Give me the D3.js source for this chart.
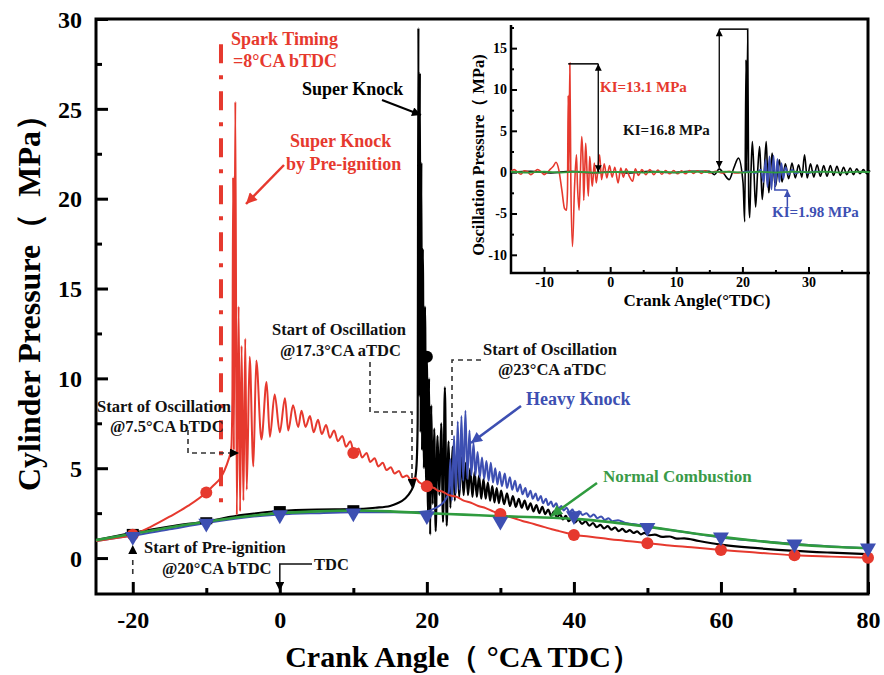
<!DOCTYPE html>
<html><head><meta charset="utf-8">
<script src="https://cdn.jsdelivr.net/npm/d3@7"></script>
<style>
body{margin:0;background:#fff}
text{font-family:"Liberation Serif","Times New Roman",serif;font-weight:bold}
</style>
</head><body><svg id="c" width="884" height="675"></svg>
<script>
// ---------------- DATA ----------------
const mainXTicks = [-20, 0, 20, 40, 60, 80];
const mainXMinor = [-10, 10, 30, 50, 70];
const mainYTicks = [0, 5, 10, 15, 20, 25, 30];
const mainYMinor = [2.5, 7.5, 12.5, 17.5, 22.5, 27.5];
const insetXTicks = [-10, 0, 10, 20, 30];
const insetXMinor = [-5, 5, 15, 25, 35];
const insetYTicks = [-10, -5, 0, 5, 10, 15];
const insetYMinor = [-7.5, -2.5, 2.5, 7.5, 12.5, 17.5];

// Normal combustion (green)
const normalCurve = [[-25,1.0],[-20,1.35],[-15,1.7],[-10,2.02],[-5,2.3],[0,2.5],[5,2.6],[10,2.65],[15,2.6],[20,2.5],[25,2.42],[30,2.33],[35,2.27],[40,2.18],[45,2.0],[50,1.75],[55,1.45],[60,1.18],[65,0.95],[70,0.76],[75,0.63],[80,0.55]];

// Heavy knock (blue)
const heavyCurve = [[-25,0.95],[-20,1.25],[-15,1.6],[-10,1.95],[-5,2.25],[0,2.42],[5,2.5],[10,2.55],[15,2.55],[18,2.55],[20,2.6],[21,2.75],[22,3.0],[22.6,3.3],[23,3.7],
[23.2,5.5],[23.4,3.2],[23.7,6.8],[23.95,3.6],[24.2,7.6],[24.45,3.8],[24.7,7.9],[24.95,4.3],[25.25,8.2],[25.5,4.4],[25.8,7.1],[26.05,4.6],[26.35,6.4],[26.6,4.6],[26.9,5.9],[27.2,4.5],[27.5,5.6],[27.8,4.4],[28.1,5.4],[28.4,4.3],[28.7,5.3],[29.0,4.2],[29.3,5.0],[29.6,4.1],[29.9,4.8],[30.2,4.0],[30.6,4.7],[30.9,3.9],[31.3,4.5],[31.6,3.8],[32.0,4.3],[32.3,3.7],[32.7,4.1],[33.0,3.55],[33.4,3.9],[33.7,3.4],[34.1,3.75],[34.4,3.3],[34.8,3.6],[35.1,3.2],[35.5,3.45],[35.8,3.05],[36.2,3.3],[36.5,2.95],[36.9,3.15],[37.2,2.85],[37.6,3.05],[37.9,2.75],[38.3,2.9],[38.6,2.65],[39.0,2.8],[39.4,2.55],[39.8,2.7],[40.2,2.45],[40.7,2.6],[41.2,2.4],[41.7,2.5],[42.2,2.3],[42.7,2.42],[43.2,2.22],[43.7,2.32],[44.2,2.12],[44.7,2.22],[45.2,2.05],[46,2.1],[47,1.95],[48,1.9],[50,1.75],[55,1.45],[60,1.15],[65,0.95],[70,0.78],[75,0.65],[80,0.55]];

// Super knock (black)
const superCurve = [[-25,1.0],[-20,1.4],[-15,1.75],[-10,2.05],[-5,2.4],[0,2.62],[5,2.7],[10,2.72],[13,2.8],[15,2.9],[16,3.05],[17,3.3],[17.8,3.7],[18.3,4.2],[18.6,5.2],[18.75,7.5],[18.85,29.5],[18.95,9],[19.05,27],[19.15,7],[19.25,22],[19.35,6],[19.45,17.2],[19.6,5],[19.75,14],[19.9,4],[20.0,11.2],[20.15,2.5],[20.3,10],[20.45,1.3],[20.6,8.5],[20.8,3],[21.0,7.2],[21.2,1.5],[21.45,6.8],[21.7,3.5],[21.95,7.5],[22.2,2.0],[22.45,9.5],[22.7,1.8],[22.95,6.5],[23.2,2.8],[23.5,6.2],[23.8,3.2],[24.1,6.0],[24.4,3.4],[24.7,5.6],[25.0,3.5],[25.3,5.3],[25.6,3.5],[25.9,5.0],[26.2,3.4],[26.5,4.8],[26.8,3.4],[27.1,4.6],[27.4,3.3],[27.7,4.4],[28.0,3.3],[28.3,4.2],[28.6,3.2],[28.9,4.0],[29.2,3.1],[29.5,3.9],[29.8,3.05],[30.1,3.75],[30.5,3.0],[30.9,3.6],[31.3,2.9],[31.7,3.45],[32.1,2.85],[32.5,3.3],[32.9,2.8],[33.3,3.2],[33.7,2.7],[34.1,3.05],[34.5,2.6],[34.9,2.95],[35.3,2.5],[35.7,2.85],[36.1,2.45],[36.5,2.7],[36.9,2.35],[37.3,2.6],[37.7,2.25],[38.1,2.45],[38.5,2.15],[38.9,2.35],[39.3,2.05],[39.7,2.25],[40.1,1.98],[40.6,2.15],[41.1,1.9],[41.6,2.05],[42.1,1.8],[42.6,1.95],[43.1,1.72],[43.6,1.85],[44.1,1.65],[44.6,1.78],[45.1,1.58],[45.6,1.7],[46.1,1.5],[46.6,1.62],[47.1,1.45],[47.6,1.55],[48.1,1.4],[48.6,1.48],[49.1,1.32],[49.6,1.4],[50.1,1.27],[51,1.3],[52,1.18],[53,1.2],[54,1.08],[55,1.1],[57,0.95],[60,0.75],[65,0.55],[70,0.4],[75,0.3],[80,0.22]];

// Super knock by pre-ignition (red)
const preIgnCurve = [[-25,0.95],[-22.5,1.1],[-20,1.3],[-17.5,1.75],[-15,2.3],[-12.5,2.9],[-10,3.65],[-9,4.05],[-8,4.5],[-7.5,4.9],[-7,5.45],[-6.6,6.1],
[-6.45,9],[-6.35,21.2],[-6.25,6],[-6.05,25.4],[-5.85,2.4],[-5.6,14],[-5.4,2.6],[-5.2,11.8],[-4.95,3.2],[-4.7,12.2],[-4.5,3.8],[-4.1,11.2],[-3.6,5.1],[-3.2,11.0],[-2.5,6.6],[-1.8,9.8],[-1.35,6.75],[-0.7,9.1],[0,7.0],[0.7,8.9],[1.15,7.1],[1.8,8.5],[2.5,7.3],[2.95,8.2],[3.5,7.3],[4.1,7.9],[4.6,7.0],[5.2,7.7],[5.7,6.9],[6.3,7.4],[6.8,6.7],[7.4,7.1],[7.9,6.5],[8.5,6.8],[9.0,6.2],[9.6,6.5],[10.1,5.85],[10.7,6.1],[11.2,5.6],[11.8,5.85],[12.3,5.35],[12.9,5.55],[13.4,5.1],[14.0,5.3],[14.5,4.9],[15.1,5.05],[15.6,4.7],[16.2,4.85],[16.7,4.5],[17.3,4.6],[17.8,4.35],[18.4,4.45],[19,4.2],[20,4.0],[21,3.9],[21.5,3.75],[22,3.72],[23,3.5],[24,3.42],[25,3.2],[26,3.08],[27,2.9],[28,2.78],[29,2.6],[30,2.45],[31,2.32],[32,2.2],[33,2.06],[34,1.96],[35,1.84],[36,1.72],[37,1.6],[38,1.5],[39,1.4],[40,1.3],[42,1.2],[44,1.1],[46,1.0],[48,0.92],[50,0.83],[53,0.7],[56,0.6],[60,0.45],[65,0.3],[70,0.15],[75,0.08],[80,0.02]];

const redMarkers = [[-20,1.3],[-10,3.65],[10,5.85],[20,4.0],[30,2.45],[40,1.28],[50,0.83],[60,0.45],[70,0.15],[80,0.02]];
const blueMarkers = [[-20,1.2],[-10,1.93],[0,2.4],[10,2.5],[20,2.35],[30,2.05],[40,2.35],[50,1.7],[60,1.17],[70,0.78],[80,0.55]];
const blackMarkers = [[-20,1.4],[-10,2.05],[0,2.67],[10,2.72]];
const blackPeakMarker = [[20,11.2]];

// Inset: oscillation pressure
const insetRed = [[-15,0.1],[-14.5,0.3],[-14,0],[-13.5,-0.25],[-13,0.15],[-12.5,0.05],[-12,-0.3],[-11.5,0.0],[-11,0.3],[-10.5,0.1],[-10,-0.3],[-9.5,0],[-9,0.4],[-8.6,0.7],[-8.2,1.2],[-7.8,0.4],[-7.3,-2.2],[-6.9,-4.4],[-6.6,-4.6],[-6.45,-2],[-6.35,9.3],[-6.25,0],[-6.1,13.2],[-5.95,-1],[-5.7,-9.0],[-5.4,-2],[-5.1,2.1],[-4.95,-1.5],[-4.7,-4.6],[-4.5,0],[-4.3,4.3],[-4.1,1],[-4.0,-3.4],[-3.85,0],[-3.7,3.5],[-3.5,0],[-3.3,-2.9],[-3.1,1.9],[-2.9,0],[-2.7,-1.7],[-2.4,1.1],[-2.1,-1.3],[-1.6,2.1],[-1.3,-0.9],[-0.9,1.0],[-0.5,-0.7],[-0.1,0.8],[0.3,-0.6],[0.7,0.6],[1.2,-1.3],[1.6,0.5],[2.0,-0.6],[2.4,0.4],[2.9,-0.5],[3.4,-1.1],[3.8,0.4],[4.3,-0.4],[4.8,0.3],[5.4,-0.3],[6,0.3],[6.6,-0.3],[7.2,0.25],[7.8,-0.25],[8.4,0.2],[9,-0.2],[9.6,0.2],[10.2,-0.2],[10.8,0.15],[11.4,-0.2],[12,0.2],[12.6,-0.15],[13.2,0.15],[13.8,-0.15],[14.4,0.15],[15,-0.1],[16,0.1],[17,-0.1],[18,0.1],[19,-0.1],[20,0]];
const insetBlack = [[-15,0],[-12,0.1],[-9,-0.1],[-6,0.1],[-3,-0.1],[0,0.05],[3,-0.1],[6,0.1],[9,-0.05],[12,0.1],[15,0.1],[15.8,-0.3],[16.5,0.4],[17.2,-0.2],[18,-0.9],[18.7,0.5],[19.4,1.7],[20.1,-1.3],[20.35,-6.0],[20.55,13.6],[20.65,0],[20.8,17.3],[20.95,-3],[21.1,-5.5],[21.3,0],[21.5,3.7],[21.75,0],[22.0,-4.2],[22.3,0],[22.6,3.1],[22.8,0],[23.0,-3.3],[23.3,0],[23.6,3.7],[23.8,0],[24.0,-2.5],[24.25,0],[24.5,2.3],[24.75,0],[25.0,-1.7],[25.3,0],[25.6,1.5],[25.8,0],[26.0,-1.2],[26.5,1.0],[27,-0.8],[27.5,1.1],[28,-0.7],[28.5,0.9],[29,-0.6],[29.4,2.1],[29.8,-0.7],[30.3,1.0],[30.8,-0.6],[31.3,0.9],[31.8,-0.5],[32.3,0.8],[32.8,-0.5],[33.3,0.8],[33.8,-0.4],[34.3,0.7],[34.8,-0.4],[35.3,0.6],[35.8,-0.3],[36.3,0.5],[36.8,-0.3],[37.3,0.4],[37.8,-0.2],[38.3,0.3],[38.8,-0.2],[39.3,0.2]];
const insetBlue = [[20,0],[21,0.1],[22,-0.1],[22.8,0.3],[23.2,-1.2],[23.5,1.5],[23.8,-1.8],[24.1,1.9],[24.4,-2.1],[24.7,2.0],[25.0,-1.6],[25.3,1.6],[25.6,-1.2],[25.9,1.1],[26.2,-0.8],[26.5,0.6],[27,-0.3],[27.5,0.3],[28,-0.15],[29,0.1],[30,-0.1],[31,0.1],[32,0]];
const insetGreen = [[-15,0.05],[-12.5,-0.05],[-10,0.05],[-7.5,-0.05],[-5,0.05],[-2.5,-0.05],[0,0],[2.5,0.05],[5,-0.05],[7.5,0.05],[10,-0.05],[12.5,0.05],[15,0],[17.5,0.05],[20,-0.05],[22.5,0.05],[25,-0.05],[27.5,0.05],[30,0],[32.5,0.05],[35,-0.05],[37.5,0.05],[39.3,0]];

// KI values
const kiRed = {x0:-6.35, x1:-1.8, top:13.1, bottom:0};
const kiBlack = {x0:16.5, x1:20.8, top:17.3, bottom:0.5};
const kiBlue = {x0:24.9, x1:26.8, level:-2.15, up:-1.3, low:-4.2};

// ---------------- DRAW ----------------
const RED = "#e6392e", BLUE = "#3d4fb2", GREEN = "#2f9b3e", BLACK = "#000";
const svg = d3.select("#c");
const fmt = d => String(d);

const x = d3.scaleLinear([-25, 80], [96, 868]);
const y = d3.scaleLinear([-2, 30], [594, 19]);
const ix = d3.scaleLinear([-15, 39.3], [511, 870]);
const iy = d3.scaleLinear([-12.2, 17.8], [273, 25]);

// arrow markers
const defs = svg.append("defs");
function mk(id, color, w, h) {
  defs.append("marker").attr("id", id).attr("viewBox", "0 0 10 10").attr("refX", 10).attr("refY", 5)
    .attr("markerWidth", w).attr("markerHeight", h).attr("markerUnits", "userSpaceOnUse").attr("orient", "auto-start-reverse")
    .append("path").attr("d", "M0,0 L10,5 L0,10 z").attr("fill", color);
}
mk("aBlack", BLACK, 12, 9); mk("aRed", RED, 14, 11); mk("aBlue", BLUE, 14, 11); mk("aGreen", GREEN, 14, 11);
mk("aSmall", BLACK, 8, 7); mk("aSmallBlue", BLUE, 8, 7); mk("aTri", BLACK, 11, 9);

// main axes
const gx = svg.append("g").attr("transform", "translate(0,594)")
  .call(d3.axisBottom(x).tickValues(mainXTicks).tickSize(-12).tickPadding(17).tickFormat(fmt));
const gxm = svg.append("g").attr("transform", "translate(0,594)")
  .call(d3.axisBottom(x).tickValues(mainXMinor).tickSize(-6).tickFormat(""));
const gy = svg.append("g").attr("transform", "translate(96,0)")
  .call(d3.axisLeft(y).tickValues(mainYTicks).tickSize(-12).tickPadding(14).tickFormat(fmt));
const gym = svg.append("g").attr("transform", "translate(96,0)")
  .call(d3.axisLeft(y).tickValues(mainYMinor).tickSize(-6).tickFormat(""));
[gx, gxm, gy, gym].forEach(g => {
  g.select(".domain").remove();
  g.selectAll(".tick line").attr("stroke", "#000").attr("stroke-width", 3);
  g.selectAll("text").attr("font-size", 24).attr("fill", "#000")
    .attr("font-family", '"Liberation Serif",serif').attr("font-weight", "bold");
});
gy.selectAll("text").attr("dy", "0.34em");

// frame
svg.append("rect").attr("x", 96).attr("y", 19).attr("width", 772).attr("height", 575)
  .attr("fill", "none").attr("stroke", "#000").attr("stroke-width", 3);

// axis titles
svg.append("text").attr("transform", "translate(40,295) rotate(-90)").attr("text-anchor", "middle")
  .attr("font-size", 32).attr("xml:space", "preserve").text("Cylinder Pressure（  MPa）");
svg.append("text").attr("x", 463).attr("y", 667).attr("text-anchor", "middle")
  .attr("font-size", 30).text("Crank Angle（ °CA TDC）");

// spark timing line
svg.append("line").attr("x1", x(-8)).attr("x2", x(-8)).attr("y1", y(28.6)).attr("y2", y(2.5))
  .attr("stroke", RED).attr("stroke-width", 4).attr("stroke-dasharray", "19,12,4,12");

// curves
const line = d3.line().x(d => x(d[0])).y(d => y(d[1])).curve(d3.curveMonotoneX);
svg.append("path").datum(superCurve).attr("d", line).attr("fill", "none").attr("stroke", BLACK).attr("stroke-width", 2.2);
svg.append("path").datum(heavyCurve).attr("d", line).attr("fill", "none").attr("stroke", BLUE).attr("stroke-width", 2);
svg.append("path").datum(preIgnCurve).attr("d", line).attr("fill", "none").attr("stroke", RED).attr("stroke-width", 2);
svg.append("path").datum(normalCurve).attr("d", line).attr("fill", "none").attr("stroke", GREEN).attr("stroke-width", 2.6);

// markers
svg.selectAll(".bm").data(blackMarkers).join("rect").attr("x", d => x(d[0]) - 6).attr("y", d => y(d[1]) - 4)
  .attr("width", 12).attr("height", 7).attr("fill", BLACK);
svg.selectAll(".rm").data(redMarkers).join("circle").attr("cx", d => x(d[0])).attr("cy", d => y(d[1])).attr("r", 6).attr("fill", RED);
const tri = d3.symbol(d3.symbolTriangle, 110);
svg.selectAll(".tm").data(blueMarkers).join("path").attr("d", tri)
  .attr("transform", d => `translate(${x(d[0])},${y(d[1])}) rotate(180)`).attr("fill", BLUE);
svg.selectAll(".km").data(blackPeakMarker).join("circle").attr("cx", d => x(d[0])).attr("cy", d => y(d[1])).attr("r", 6).attr("fill", BLACK);

// annotations
function txt(t, px, py, size, color, anchor) {
  svg.append("text").attr("x", px).attr("y", py).attr("font-size", size).attr("fill", color)
    .attr("text-anchor", anchor || "start").text(t);
}
txt("Spark Timing", 231, 45, 18, RED);
txt("=8°CA bTDC", 233, 67, 18, RED);
txt("Super Knock", 302, 95, 18, BLACK);
svg.append("line").attr("x1", 382).attr("y1", 100).attr("x2", 421).attr("y2", 115).attr("stroke", BLACK).attr("stroke-width", 2).attr("marker-end", "url(#aBlack)");
txt("Super Knock", 290, 147, 18, RED);
txt("by Pre-ignition", 286, 170, 18, RED);
svg.append("line").attr("x1", 284).attr("y1", 165).attr("x2", 246).attr("y2", 204).attr("stroke", RED).attr("stroke-width", 2.5).attr("marker-end", "url(#aRed)");

txt("Start of Oscillation", 272, 335, 16.5, "#111");
txt("@17.3°CA aTDC", 280, 356, 16.5, "#111");
svg.append("path").attr("d", "M370,362 V412 H412 V480").attr("fill", "none").attr("stroke", "#333").attr("stroke-width", 1.6).attr("stroke-dasharray", "5,4");
svg.append("line").attr("x1", 412).attr("y1", 476).attr("x2", 412).attr("y2", 488).attr("stroke", "none").attr("marker-end", "url(#aTri)");

txt("Start of Oscillation", 97, 412, 16.5, "#111");
txt("@7.5°CA bTDC", 110, 432, 16.5, "#111");
svg.append("path").attr("d", "M188,430 V453 H232").attr("fill", "none").attr("stroke", "#333").attr("stroke-width", 1.6).attr("stroke-dasharray", "5,4");
svg.append("line").attr("x1", 228).attr("y1", 453).attr("x2", 239).attr("y2", 453).attr("stroke", "none").attr("marker-end", "url(#aTri)");

txt("Start of Oscillation", 483, 355, 16.5, "#111");
txt("@23°CA aTDC", 498, 375, 16.5, "#111");
svg.append("path").attr("d", "M481,360 H452 V440").attr("fill", "none").attr("stroke", "#333").attr("stroke-width", 1.6).attr("stroke-dasharray", "5,4");

txt("Heavy Knock", 526, 405, 18, BLUE);
svg.append("line").attr("x1", 521).attr("y1", 406).attr("x2", 471).attr("y2", 443).attr("stroke", BLUE).attr("stroke-width", 2.5).attr("marker-end", "url(#aBlue)");
txt("Normal Combustion", 603, 482, 17, "#3a9a48");
svg.append("line").attr("x1", 597).attr("y1", 483).attr("x2", 551).attr("y2", 516).attr("stroke", GREEN).attr("stroke-width", 2.5).attr("marker-end", "url(#aGreen)");

txt("Start of Pre-ignition", 144, 553, 16.5, "#111");
txt("@20°CA bTDC", 162, 574, 16.5, "#111");
svg.append("line").attr("x1", x(-20)).attr("y1", 574).attr("x2", x(-20)).attr("y2", 558).attr("stroke", "#333").attr("stroke-width", 1.6).attr("stroke-dasharray", "5,4");
svg.append("line").attr("x1", x(-20)).attr("y1", 558).attr("x2", x(-20)).attr("y2", 545).attr("stroke", "none").attr("marker-end", "url(#aTri)");
txt("TDC", 314, 570, 16.5, "#111");
svg.append("path").attr("d", `M312,564 H${x(0)} V582`).attr("fill", "none").attr("stroke", "#111").attr("stroke-width", 1.5);
svg.append("line").attr("x1", x(0)).attr("y1", 578).attr("x2", x(0)).attr("y2", 591).attr("stroke", "none").attr("marker-end", "url(#aTri)");

// ---------------- INSET ----------------
const ins = svg.append("g");
const igx = ins.append("g").attr("transform", "translate(0,273)")
  .call(d3.axisBottom(ix).tickValues(insetXTicks).tickSize(-6).tickPadding(4).tickFormat(fmt));
const igxm = ins.append("g").attr("transform", "translate(0,273)")
  .call(d3.axisBottom(ix).tickValues(insetXMinor).tickSize(-3).tickFormat(""));
const igy = ins.append("g").attr("transform", "translate(511,0)")
  .call(d3.axisLeft(iy).tickValues(insetYTicks).tickSize(-6).tickPadding(4).tickFormat(fmt));
const igym = ins.append("g").attr("transform", "translate(511,0)")
  .call(d3.axisLeft(iy).tickValues(insetYMinor).tickSize(-3).tickFormat(""));
[igx, igxm, igy, igym].forEach(g => {
  g.select(".domain").remove();
  g.selectAll(".tick line").attr("stroke", "#000").attr("stroke-width", 2);
  g.selectAll("text").attr("font-size", 14).attr("fill", "#000")
    .attr("font-family", '"Liberation Serif",serif').attr("font-weight", "bold");
});
ins.append("path").attr("d", "M511,25 V273 H870").attr("fill", "none").attr("stroke", "#000").attr("stroke-width", 2.5);

ins.append("text").attr("transform", "translate(484,155) rotate(-90)").attr("text-anchor", "middle")
  .attr("font-size", 16.5).text("Oscillation Pressure（ MPa)");
ins.append("text").attr("x", 697).attr("y", 306).attr("text-anchor", "middle")
  .attr("font-size", 17).text("Crank Angle(°TDC)");

const iline = d3.line().x(d => ix(d[0])).y(d => iy(d[1])).curve(d3.curveMonotoneX);
ins.append("path").datum(insetBlack).attr("d", iline).attr("fill", "none").attr("stroke", BLACK).attr("stroke-width", 1.6);
ins.append("path").datum(insetRed).attr("d", iline).attr("fill", "none").attr("stroke", RED).attr("stroke-width", 1.6);
ins.append("path").datum(insetBlue).attr("d", iline).attr("fill", "none").attr("stroke", BLUE).attr("stroke-width", 1.8);
ins.append("path").datum(insetGreen).attr("d", iline).attr("fill", "none").attr("stroke", GREEN).attr("stroke-width", 1.8);

// KI annotations
ins.append("line").attr("x1", ix(kiRed.x0)).attr("x2", ix(kiRed.x1)).attr("y1", iy(kiRed.top)).attr("y2", iy(kiRed.top)).attr("stroke", "#000").attr("stroke-width", 1.5);
ins.append("line").attr("x1", ix(kiRed.x1)).attr("x2", ix(kiRed.x1)).attr("y1", iy(kiRed.bottom)).attr("y2", iy(kiRed.top)).attr("stroke", "#000").attr("stroke-width", 1.3)
  .attr("marker-start", "url(#aSmall)").attr("marker-end", "url(#aSmall)");
ins.append("line").attr("x1", ix(kiBlack.x0)).attr("x2", ix(kiBlack.x1)).attr("y1", iy(kiBlack.top)).attr("y2", iy(kiBlack.top)).attr("stroke", "#000").attr("stroke-width", 1.5);
ins.append("line").attr("x1", ix(kiBlack.x0)).attr("x2", ix(kiBlack.x0)).attr("y1", iy(kiBlack.bottom)).attr("y2", iy(kiBlack.top)).attr("stroke", "#000").attr("stroke-width", 1.3)
  .attr("marker-start", "url(#aSmall)").attr("marker-end", "url(#aSmall)");
ins.append("path").attr("d", `M${ix(kiBlue.x0)},${iy(kiBlue.up)} V${iy(kiBlue.level)} H${ix(kiBlue.x1)}`).attr("fill", "none").attr("stroke", BLUE).attr("stroke-width", 1.5);
ins.append("line").attr("x1", ix(kiBlue.x1)).attr("x2", ix(kiBlue.x1)).attr("y1", iy(kiBlue.low)).attr("y2", iy(kiBlue.level)).attr("stroke", BLUE).attr("stroke-width", 1.5)
  .attr("marker-end", "url(#aSmallBlue)");

ins.append("text").attr("x", 600).attr("y", 92).attr("font-size", 15).attr("fill", RED).text("KI=13.1 MPa");
ins.append("text").attr("x", 623).attr("y", 135).attr("font-size", 15).attr("fill", "#111").text("KI=16.8 MPa");
ins.append("text").attr("x", 772).attr("y", 217).attr("font-size", 15).attr("fill", BLUE).text("KI=1.98 MPa");
</script></body></html>
